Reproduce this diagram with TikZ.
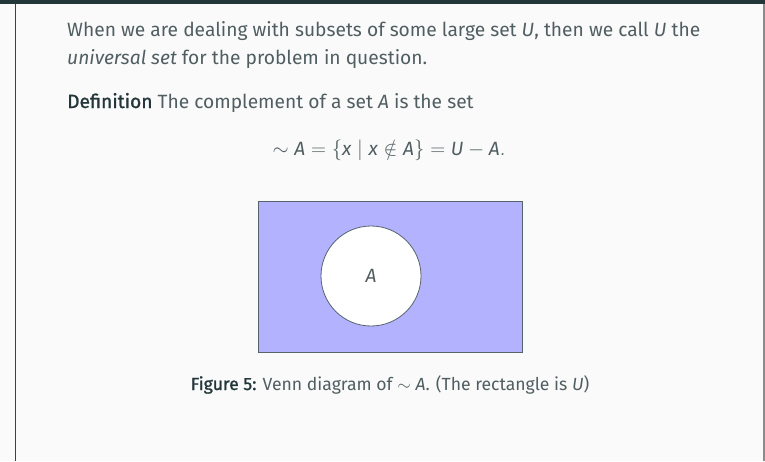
\documentclass[tikz,border=0pt]{standalone}
\usepackage{fontspec}
\setmainfont{Fira Sans}[BoldFont={Fira Sans}, BoldFeatures={FakeBold=1.2},
  BoldItalicFont={Fira Sans Italic}, BoldItalicFeatures={FakeBold=1.2}]
\definecolor{mdarkteal}{HTML}{23373B}
\definecolor{bodytext}{HTML}{505E61}
\definecolor{slidebg}{HTML}{FAFAFA}
\definecolor{setline}{HTML}{56646A}
\newcommand{\mv}[1]{\mbox{\itshape #1}}
\newcommand{\kw}[1]{\textcolor{mdarkteal}{\bfseries #1}}

\begin{document}
\begin{tikzpicture}[x=1pt, y=-1pt, text=bodytext,
  font=\fontsize{19.2}{27.5}\selectfont,
  body/.style={anchor=base west, inner sep=0pt},
  centred/.style={anchor=base, inner sep=0pt},
  setbox/.style={draw=setline, fill=blue!30, line width=1pt, inner sep=0pt,
    minimum width=264pt, minimum height=151pt},
  setdisc/.style={circle, draw=setline, fill=white, line width=0.8pt, inner sep=0pt,
    minimum size=100pt}]
% page
\fill[slidebg] (0,0) rectangle (765,461);
\useasboundingbox (0,0) rectangle (765,461);
\fill[mdarkteal] (0,0) rectangle (765,3.5);
\draw[line width=1.3pt, black!75] (15.5,3.5) -- (15.5,461);
\draw[line width=2pt, black!45] (764,3.5) -- (764,461);
% text
\node[body] (intro1) at (67,36.7)
  {When we are dealing with subsets of some large set \textit{U}, then we call \textit{U} the};
\node[body] (intro2) at (67,64.2) {\textit{universal set} for the problem in question.};
\node[body] (defn) at (67,108) {\kw{Definition} The complement of a set \textit{A} is the set};
\node[centred] (eqn) at (389,155)
  {$\sim\mv{A} = \{\mv{x} \mid \mv{x} \notin \mv{A}\} = \mv{U} - \mv{A}.$};
% venn diagram
\node[setbox, anchor=north west] (U) at (257.5,200.5) {};
\node[setdisc] (A) at (371,276) {\textit{A}};
\node[centred, font=\fontsize{17.6}{20}\selectfont] (caption) at (390,390)
  {\kw{Figure 5:} Venn diagram of $\sim\mv{A}$. (The rectangle is \textit{U})};
\end{tikzpicture}
\end{document}
